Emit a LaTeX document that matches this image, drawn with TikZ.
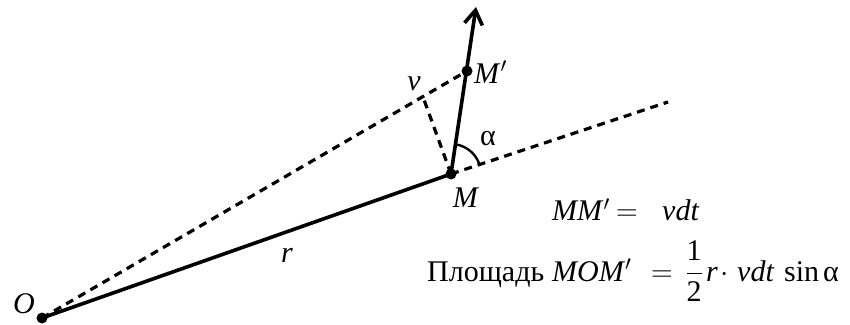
\RequirePackage{fix-cm}
\documentclass[tikz,border=0pt]{standalone}
\usepackage{fontspec}
\setmainfont{Liberation Serif}
\usetikzlibrary{arrows.meta,calc}
\begin{document}
\begin{tikzpicture}[x=1pt,y=1pt,
  solidline/.style={line width=3.6pt},
  dashline/.style={line width=3.2pt,dash pattern=on 8pt off 6pt},
  dot/.style={circle,fill=black,inner sep=0pt,minimum size=11pt},
  lbl/.style={font=\fontsize{30}{34}\selectfont,inner sep=0pt},
  txt/.style={lbl,anchor=base west},
  ctr/.style={lbl,anchor=base}]
\useasboundingbox (0,0) rectangle (850,324);
\coordinate (O) at (42,6);
\coordinate (M) at (451,150);
\coordinate (Mp) at (467,253);
\coordinate (tip) at (476,317);
\coordinate (F) at (423,227);
\coordinate (E) at (668,222);
\draw[dashline] (O) -- (Mp);
\draw[dashline] (M) -- (E);
\draw[dashline] (M) -- (F);
\draw[solidline] (O) -- (M);
\draw[solidline,-{Straight Barb[length=14pt,width=18pt,line width=3.6pt]}] (M) -- (tip);
\draw[line width=2.4pt] ($(M)+(18.6:30)$) arc (18.6:81.3:30);
\node[dot] (dO) at (O) {};
\node[dot] (dM) at (M) {};
\node[dot] (dMp) at (Mp) {};
\node[lbl] (lO) at (24,20) {\textit{O}};
\node[lbl] (lM) at (466,126) {\textit{M}};
\node[lbl,anchor=west] (lMp) at (474,252) {\textit{M}$'$};
\node[lbl] (lv) at (414,240) {\textit{v}};
\node[lbl] (la) at (488,185) {α};
\node[lbl] (lr) at (287,69) {\textit{r}};
% first formula
\node[txt] (a1) at (552,103) {\textit{MM}$'$};
\node[ctr] (a2) at (627,103) {$=$};
\node[txt] (a3) at (662,103) {\textit{vdt}};
% second formula
\node[txt] (b1) at (427,43) {Площадь};
\node[txt] (b2) at (552,43) {\textit{MOM}$'$};
\node[ctr] (b3) at (662,43) {$=$};
\node[ctr] (b4) at (694,43) {$\displaystyle\frac{\textrm{1}}{\textrm{2}}$};
\node[txt] (b5) at (706,43) {\textit{r}};
\node[ctr] (b6) at (725,43) {$\cdot$};
\node[txt] (b7) at (737,43) {\textit{vdt}};
\node[txt] (b8) at (784,43) {sin};
\node[txt] (b9) at (823,43) {α};
\end{tikzpicture}
\end{document}
